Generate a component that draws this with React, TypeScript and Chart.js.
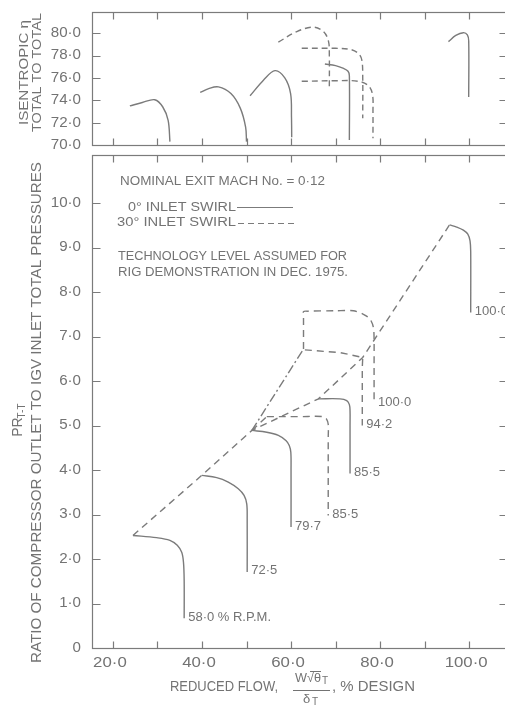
import React, { useEffect, useRef } from 'react';
import { Chart, registerables } from 'chart.js';

Chart.register(...registerables);

const FONT = '"Liberation Sans", Arial, Helvetica, sans-serif';
const LINE_COLOR = '#7b7b7b';
const TEXT_COLOR = '#737373';

// ---- axes ----
const X_MIN = 15.3;
const X_MAX = 108.5;
const X_TICKS = [20, 30, 40, 50, 60, 70, 80, 90, 100];
const X_LABELS = [20, 40, 60, 80, 100];

const ETA_MIN = 70;
const ETA_MAX = 81.9;
const ETA_TICKS = [70, 72, 74, 76, 78, 80];

const PR_MIN = 0;
const PR_MAX = 11.08;
const PR_TICKS = [0, 1, 2, 3, 4, 5, 6, 7, 8, 9, 10];

// ---- isentropic efficiency, 0 deg inlet swirl (solid) ----
const eta58 = [[23.8, 73.5], [26.6, 73.8], [29.4, 74.05], [31.2, 73.4], [32.4, 72.2], [32.8, 70.3]];
const eta72 = [[39.6, 74.7], [41.5, 75.05], [43.7, 75.2], [46.5, 74.6], [48.6, 73.3], [49.8, 71.6], [50.0, 70.3]];
const eta79 = [[50.8, 74.4], [53.8, 75.8], [56.4, 76.65], [58.6, 76.0], [59.9, 74.6], [60.1, 72.5], [60.15, 70.7]];
const eta85 = [[67.6, 77.25], [70.0, 77.1], [71.8, 76.85], [72.8, 76.6], [73.1, 76.2], [73.1, 70.45]];
const eta100 = [[95.35, 79.25], [97.0, 79.8], [98.7, 80.05], [99.6, 79.85], [99.9, 79.3], [99.9, 74.3]];

// ---- isentropic efficiency, 30 deg inlet swirl (dashed) ----
const etaD85 = [[57.15, 79.2], [61.3, 80.15], [65.0, 80.55], [67.3, 80.15], [68.4, 79.3], [68.6, 78.0], [68.6, 75.2]];
const etaD94 = [[62.4, 78.65], [70.0, 78.65], [73.3, 78.55], [75.1, 78.2], [75.9, 77.6], [76.1, 76.0], [76.1, 72.4]];
const etaD100 = [[62.4, 75.7], [70.0, 75.75], [75.1, 75.7], [77.4, 75.3], [78.3, 74.5], [78.4, 73.0], [78.4, 70.6]];

// ---- pressure ratio, 0 deg inlet swirl (solid) ----
const pr58 = [[24.5, 2.53], [29.8, 2.48], [32.8, 2.42], [34.45, 2.31], [35.45, 2.15], [35.85, 1.92], [36.0, 1.5], [36.0, 0.67]];
const pr72 = [[39.95, 3.88], [43.3, 3.83], [45.9, 3.73], [48.15, 3.58], [49.45, 3.43], [50.05, 3.24], [50.15, 2.9], [50.15, 1.71]];
const pr79 = [[51.2, 4.89], [54.55, 4.85], [57.15, 4.78], [58.9, 4.66], [59.6, 4.55], [59.95, 4.4], [60.0, 4.0], [60.0, 2.72]];
const pr85 = [[66.15, 5.6], [71.0, 5.6], [72.5, 5.56], [73.1, 5.47], [73.25, 5.33], [73.25, 5.0], [73.25, 3.92]];
const pr100 = [[95.6, 9.51], [97.2, 9.46], [98.7, 9.39], [99.7, 9.3], [100.2, 9.15], [100.35, 8.9], [100.35, 7.54]];

// ---- pressure ratio, 30 deg inlet swirl (dashed) ----
const prD85 = [[54.55, 5.2], [62.0, 5.2], [67.25, 5.2], [68.0, 5.14], [68.35, 5.03], [68.35, 4.7], [68.35, 2.98]];
const prD94 = [[63.1, 6.7], [71.0, 6.64], [76.1, 6.53], [76.0, 6.3], [76.0, 5.0]];
const prD100 = [[62.8, 6.72], [62.8, 7.45], [62.8, 7.56], [63.6, 7.57], [70.0, 7.58], [74.0, 7.58], [76.25, 7.5], [77.75, 7.39], [78.5, 7.2], [78.65, 6.9], [78.65, 6.4], [78.65, 5.49]];

// ---- surge lines ----
const surgeMain = [[24.5, 2.53], [39.95, 3.88], [51.2, 4.89], [66.15, 5.6], [76.1, 6.53], [95.6, 9.51]];
const surgeSwirl = [[51.2, 4.89], [54.55, 5.2]];
const surgeDashDot = [[51.2, 4.89], [62.8, 6.72]];

// ---- speed labels ----
const PR_SOLID_LABELS = ['58\u00B70 % R.P.M.', '72\u00B75', '79\u00B77', '85\u00B75', '100\u00B70'];
const PR_DASHED_LABELS = ['85\u00B75', '94\u00B72', '100\u00B70'];

const DASH = [7, 5];
const DASH_TOP = [6, 4];
const DASH_DOT = [9, 3, 2, 3];

const fmt = (v: number) => (v === 0 ? '0' : v.toFixed(1).replace('.', '\u00B7'));
const toPts = (a: number[][]) => a.map(([x, y]) => ({ x, y }));
const ds = (data: number[][], dash: number[] = [], tension = 0.35) => ({
  data: toPts(data),
  showLine: true,
  borderColor: LINE_COLOR,
  borderWidth: 1.4,
  borderDash: dash,
  pointRadius: 0,
  pointHoverRadius: 0,
  tension,
  fill: false,
});

function text(
  ctx: CanvasRenderingContext2D,
  s: string,
  x: number,
  y: number,
  size: number,
  opts: { width?: number; sx?: number; align?: CanvasTextAlign; rot?: number } = {}
) {
  ctx.save();
  ctx.translate(x, y);
  if (opts.rot) ctx.rotate(opts.rot);
  ctx.font = `${size}px ${FONT}`;
  ctx.fillStyle = TEXT_COLOR;
  ctx.textBaseline = 'middle';
  ctx.textAlign = opts.align || 'left';
  if (opts.width) {
    const w = ctx.measureText(s).width;
    ctx.scale(opts.width / w, 1);
  } else if (opts.sx) {
    ctx.scale(opts.sx, 1);
  }
  ctx.fillText(s, 0, 0);
  ctx.restore();
}

function drawFrame(chart: any, yTicks: number[], yFmt: (v: number) => string, showX: boolean) {
  const { ctx, chartArea } = chart;
  const xs = chart.scales.x;
  const ys = chart.scales.y;
  const L = Math.round(chartArea.left) + 0.5;
  const R = Math.round(chartArea.right) + 0.5;
  const T = Math.round(chartArea.top) + 0.5;
  const B = Math.round(chartArea.bottom) + 0.5;
  ctx.save();
  ctx.strokeStyle = LINE_COLOR;
  ctx.lineWidth = 1.2;
  ctx.setLineDash([]);
  ctx.strokeRect(L, T, R - L, B - T);
  const tl = 7;
  ctx.beginPath();
  X_TICKS.forEach((v) => {
    const px = Math.round(xs.getPixelForValue(v)) + 0.5;
    ctx.moveTo(px, T);
    ctx.lineTo(px, T + tl);
    ctx.moveTo(px, B);
    ctx.lineTo(px, B - tl);
  });
  yTicks.forEach((v) => {
    const py = Math.round(ys.getPixelForValue(v)) + 0.5;
    ctx.moveTo(L, py);
    ctx.lineTo(L + tl + 1, py);
    ctx.moveTo(R, py);
    ctx.lineTo(R - tl - 1, py);
  });
  ctx.stroke();
  ctx.restore();
  yTicks.forEach((v) => {
    const py = ys.getPixelForValue(v);
    text(ctx, yFmt(v), chartArea.left - 11, py, 14, { align: 'right', sx: 1.08 });
  });
  if (showX) {
    X_LABELS.forEach((v) => {
      const px = xs.getPixelForValue(v);
      text(ctx, fmt(v), px - 3, chartArea.bottom + 15, 14, { align: 'center', sx: 1.2 });
    });
  }
}

const topPlugin = {
  id: 'topFrame',
  afterDatasetsDraw(chart: any) {
    drawFrame(chart, ETA_TICKS, fmt, false);
    const { ctx } = chart;
    text(ctx, 'ISENTROPIC \u03B7', 24, 72.5, 13, { width: 105, align: 'center', rot: -Math.PI / 2 });
    text(ctx, 'TOTAL TO TOTAL', 37, 72.5, 13, { width: 119, align: 'center', rot: -Math.PI / 2 });
  },
};

const bottomPlugin = {
  id: 'bottomFrame',
  afterDatasetsDraw(chart: any) {
    drawFrame(chart, PR_TICKS, fmt, true);
    const { ctx, chartArea } = chart;
    const L = chartArea.left;
    const T = chartArea.top;
    const B = chartArea.bottom;
    const xs = chart.scales.x;
    const ys = chart.scales.y;

    // y-axis titles
    text(ctx, 'RATIO OF COMPRESSOR OUTLET TO IGV INLET TOTAL PRESSURES', L - 55, T + 257.5, 14, {
      width: 501,
      align: 'center',
      rot: -Math.PI / 2,
    });
    text(ctx, 'PR', L - 74, T + 272, 14, { align: 'center', rot: -Math.PI / 2 });
    text(ctx, 'T-T', L - 70, T + 256, 10, { align: 'center', rot: -Math.PI / 2 });

    // x-axis title
    text(ctx, 'REDUCED FLOW,', L + 78, B + 39, 14, { width: 108 });
    text(ctx, 'W\u221A\u03B8', L + 203, B + 30, 13, { width: 26 });
    text(ctx, 'T', L + 230, B + 33, 10);
    text(ctx, '\u03B4', L + 211, B + 51, 13);
    text(ctx, 'T', L + 220, B + 54, 10);
    text(ctx, ', % DESIGN', L + 240, B + 39, 14, { width: 83 });
    ctx.save();
    ctx.strokeStyle = TEXT_COLOR;
    ctx.lineWidth = 1;
    ctx.beginPath();
    ctx.moveTo(L + 201, B + 42.5);
    ctx.lineTo(L + 238, B + 42.5);
    ctx.moveTo(L + 218, B + 23.5);
    ctx.lineTo(L + 229, B + 23.5);
    ctx.stroke();
    ctx.restore();

    // annotations
    text(ctx, 'NOMINAL EXIT MACH No. = 0\u00B712', L + 28, T + 27, 12, { width: 205 });
    text(ctx, '0\u00B0 INLET SWIRL', L + 36, T + 53, 12, { width: 108 });
    text(ctx, '30\u00B0 INLET SWIRL', L + 25, T + 68, 12, { width: 119 });
    text(ctx, 'TECHNOLOGY LEVEL ASSUMED FOR', L + 26, T + 102, 12, { width: 229 });
    text(ctx, 'RIG DEMONSTRATION IN DEC. 1975.', L + 26, T + 118, 12, { width: 230 });
    ctx.save();
    ctx.strokeStyle = LINE_COLOR;
    ctx.lineWidth = 1.2;
    ctx.beginPath();
    ctx.moveTo(L + 145, T + 52.5);
    ctx.lineTo(L + 201, T + 52.5);
    ctx.stroke();
    ctx.setLineDash([6, 4]);
    ctx.beginPath();
    ctx.moveTo(L + 146, T + 68.5);
    ctx.lineTo(L + 204, T + 68.5);
    ctx.stroke();
    ctx.restore();

    // speed labels at the end of each characteristic
    const solid = [pr58, pr72, pr79, pr85, pr100];
    const dashed = [prD85, prD94, prD100];
    const lab = (arr: number[][], s: string) => {
      const [x, y] = arr[arr.length - 1];
      text(ctx, s, xs.getPixelForValue(x) + 4, ys.getPixelForValue(y) - 1, 13);
    };
    solid.forEach((a, i) => lab(a, PR_SOLID_LABELS[i]));
    dashed.forEach((a, i) => lab(a, PR_DASHED_LABELS[i]));
  },
};

function makeChart(
  canvas: HTMLCanvasElement,
  datasets: any[],
  yMin: number,
  yMax: number,
  padding: any,
  plugin: any
) {
  return new Chart(canvas, {
    type: 'scatter',
    data: { datasets },
    options: {
      responsive: false,
      animation: false,
      events: [],
      layout: { padding },
      plugins: { legend: { display: false }, tooltip: { enabled: false } },
      scales: {
        x: { type: 'linear', min: X_MIN, max: X_MAX, display: false },
        y: { type: 'linear', min: yMin, max: yMax, display: false },
      },
    } as any,
    plugins: [plugin],
  });
}

export default function App() {
  const topRef = useRef<HTMLCanvasElement>(null);
  const botRef = useRef<HTMLCanvasElement>(null);

  useEffect(() => {
    const top = makeChart(
      topRef.current!,
      [
        ds(eta58),
        ds(eta72),
        ds(eta79),
        ds(eta85),
        ds(eta100),
        ds(etaD85, DASH_TOP),
        ds(etaD94, DASH_TOP),
        ds(etaD100, DASH_TOP),
      ],
      ETA_MIN,
      ETA_MAX,
      { left: 92, right: 13, top: 12, bottom: 5 },
      topPlugin
    );
    const bot = makeChart(
      botRef.current!,
      [
        ds(pr58),
        ds(pr72),
        ds(pr79),
        ds(pr85),
        ds(pr100),
        ds(prD85, DASH),
        ds(prD94, DASH, 0),
        ds(prD100, DASH, 0.3),
        ds(surgeMain, DASH, 0),
        ds(surgeSwirl, DASH, 0),
        ds(surgeDashDot, DASH_DOT, 0),
      ],
      PR_MIN,
      PR_MAX,
      { left: 92, right: 13, top: 5, bottom: 59 },
      bottomPlugin
    );
    return () => {
      top.destroy();
      bot.destroy();
    };
  }, []);

  return (
    <div
      style={{
        position: 'absolute',
        left: 0,
        top: 0,
        width: 505,
        height: 707,
        overflow: 'hidden',
        background: '#fff',
      }}
    >
      <canvas ref={topRef} width={520} height={150} style={{ position: 'absolute', left: 0, top: 0, width: 520, height: 150 }} />
      <canvas ref={botRef} width={520} height={557} style={{ position: 'absolute', left: 0, top: 150, width: 520, height: 557 }} />
    </div>
  );
}
